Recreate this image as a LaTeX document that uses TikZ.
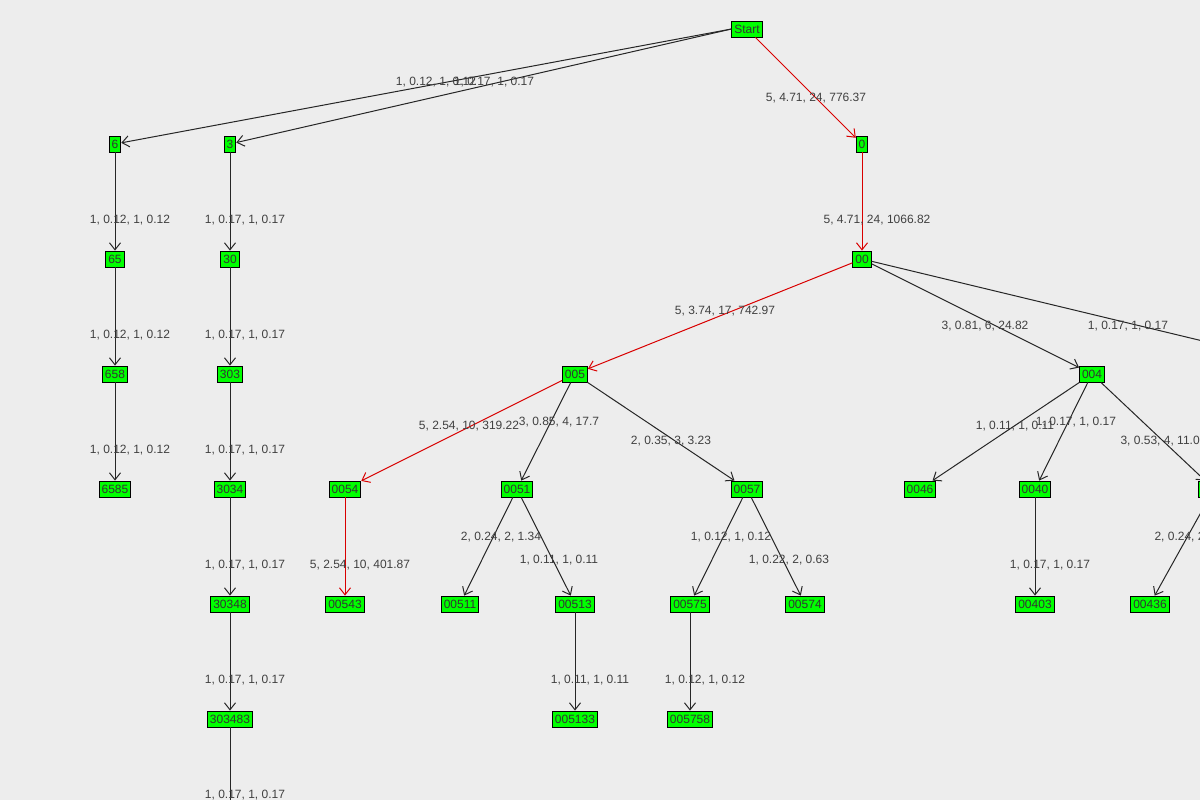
\documentclass[tikz,border=0pt]{standalone}
\usepackage{fontspec}
\setmainfont{Liberation Sans}
\usetikzlibrary{arrows.meta}
\begin{document}
\begin{tikzpicture}[x=1pt,y=-1pt,
 nd/.style={draw=black,fill=green!90!black,fill=green,inner xsep=2.5pt,inner ysep=1.5pt,minimum height=16pt,line width=0.8pt,font=\fontsize{12}{13}\selectfont,text=black!80},
 ed/.style={draw=black!85,-{Straight Barb[length=7pt,width=11pt]},line width=1pt},
 red/.style={ed,draw=red!85!black},
 lb/.style={font=\fontsize{12}{14}\selectfont,text=black!75}]
\fill[black!7] (0,0) rectangle (1200,800);
\useasboundingbox (0,0) rectangle (1200,800);
\clip (0,0) rectangle (1200,800);
\node[nd] (st) at (747,29) {Start};
\node[nd] (a6) at (115,144) {6};
\node[nd] (a3) at (230,144) {3};
\node[nd] (a0) at (862,144) {0};
\node[nd] (a65) at (115,259) {65};
\node[nd] (a30) at (230,259) {30};
\node[nd] (a00) at (862,259) {00};
\node[nd] (a658) at (115,374) {658};
\node[nd] (a303) at (230,374) {303};
\node[nd] (a005) at (575,374) {005};
\node[nd] (a004) at (1092,374) {004};
\node[nd] (ax) at (1340,374) {};
\node[nd] (a6585) at (115,489) {6585};
\node[nd] (a3034) at (230,489) {3034};
\node[nd] (a0054) at (345,489) {0054};
\node[nd] (a0051) at (517,489) {0051};
\node[nd] (a0057) at (747,489) {0057};
\node[nd] (a0046) at (920,489) {0046};
\node[nd] (a0040) at (1035,489) {0040};
\node[nd] (a0043) at (1214,489) {0043};
\node[nd] (a30348) at (230,604) {30348};
\node[nd] (a00543) at (345,604) {00543};
\node[nd] (a00511) at (460,604) {00511};
\node[nd] (a00513) at (575,604) {00513};
\node[nd] (a00575) at (690,604) {00575};
\node[nd] (a00574) at (805,604) {00574};
\node[nd] (a00403) at (1035,604) {00403};
\node[nd] (a00436) at (1150,604) {00436};
\node[nd] (a303483) at (230,719) {303483};
\node[nd] (a005133) at (575,719) {005133};
\node[nd] (a005758) at (690,719) {005758};
\coordinate (bot) at (230,834);
\draw[ed] (st.west) -- (a6);
\draw[ed] (st.west) -- (a3);
\draw[red] (st) -- (a0);
\draw[ed] (a6) -- (a65);
\draw[ed] (a3) -- (a30);
\draw[red] (a0) -- (a00);
\draw[ed] (a65) -- (a658);
\draw[ed] (a30) -- (a303);
\draw[red] (a00) -- (a005);
\draw[ed] (a00) -- (a004);
\draw[ed] (a00) -- (ax);
\draw[ed] (a658) -- (a6585);
\draw[ed] (a303) -- (a3034);
\draw[red] (a005) -- (a0054);
\draw[ed] (a005) -- (a0051);
\draw[ed] (a005) -- (a0057);
\draw[ed] (a004) -- (a0046);
\draw[ed] (a004) -- (a0040);
\draw[ed] (a004) -- (a0043);
\draw[ed] (a3034) -- (a30348);
\draw[red] (a0054) -- (a00543);
\draw[ed] (a0051) -- (a00511);
\draw[ed] (a0051) -- (a00513);
\draw[ed] (a0057) -- (a00575);
\draw[ed] (a0057) -- (a00574);
\draw[ed] (a0040) -- (a00403);
\draw[ed] (a0043) -- (a00436);
\draw[ed] (a30348) -- (a303483);
\draw[ed] (a00513) -- (a005133);
\draw[ed] (a00575) -- (a005758);
\draw[ed] (a303483) -- (bot);
\node[lb] (l1) at (436,82) {1, 0.12, 1, 0.12};
\node[lb] (l2) at (494,82) {1, 0.17, 1, 0.17};
\node[lb] (l3) at (816,98) {5, 4.71, 24, 776.37};
\node[lb] (l4) at (130,220) {1, 0.12, 1, 0.12};
\node[lb] (l5) at (245,220) {1, 0.17, 1, 0.17};
\node[lb] (l6) at (877,220) {5, 4.71, 24, 1066.82};
\node[lb] (l7) at (130,335) {1, 0.12, 1, 0.12};
\node[lb] (l8) at (245,335) {1, 0.17, 1, 0.17};
\node[lb] (l9) at (725,311) {5, 3.74, 17, 742.97};
\node[lb] (l10) at (985,326) {3, 0.81, 6, 24.82};
\node[lb] (l11) at (1128,326) {1, 0.17, 1, 0.17};
\node[lb] (l12) at (130,450) {1, 0.12, 1, 0.12};
\node[lb] (l13) at (245,450) {1, 0.17, 1, 0.17};
\node[lb] (l14) at (469,426) {5, 2.54, 10, 319.22};
\node[lb] (l15) at (559,422) {3, 0.85, 4, 17.7};
\node[lb] (l16) at (671,441) {2, 0.35, 3, 3.23};
\node[lb] (l17) at (1015,426) {1, 0.11, 1, 0.11};
\node[lb] (l18) at (1076,422) {1, 0.17, 1, 0.17};
\node[lb,anchor=west] (l19) at (1117,441) {3, 0.53, 4, 11.03};
\node[lb] (l20) at (245,565) {1, 0.17, 1, 0.17};
\node[lb] (l21) at (360,565) {5, 2.54, 10, 401.87};
\node[lb] (l22) at (501,537) {2, 0.24, 2, 1.34};
\node[lb] (l23) at (559,560) {1, 0.11, 1, 0.11};
\node[lb] (l24) at (731,537) {1, 0.12, 1, 0.12};
\node[lb] (l25) at (789,560) {1, 0.22, 2, 0.63};
\node[lb] (l26) at (1050,565) {1, 0.17, 1, 0.17};
\node[lb,anchor=west] (l27) at (1151,537) {2, 0.24, 2};
\node[lb] (l28) at (245,680) {1, 0.17, 1, 0.17};
\node[lb] (l29) at (590,680) {1, 0.11, 1, 0.11};
\node[lb] (l30) at (705,680) {1, 0.12, 1, 0.12};
\node[lb] (l31) at (245,795) {1, 0.17, 1, 0.17};
\end{tikzpicture}
\end{document}
